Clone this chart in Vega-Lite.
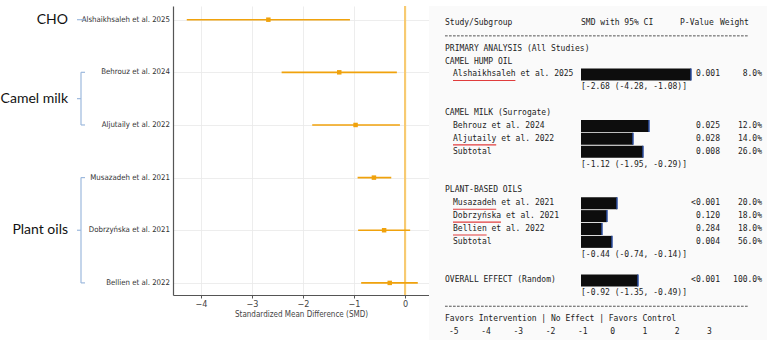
{
  "$schema": "https://vega.github.io/schema/vega-lite/v6.json",
  "padding": {"left": 0, "top": 5, "right": 0, "bottom": 0},
  "background": "white",
  "bounds": "flush",
  "spacing": 0,
  "config": {"view": {"stroke": null}},
  "datasets": {
    "studies": [
      {"order": 1, "study": "Alshaikhsaleh et al. 2025", "smd": -2.68, "lo": -4.28, "hi": -1.08},
      {"order": 2, "study": "Behrouz et al. 2024", "smd": -1.29, "lo": -2.42, "hi": -0.16},
      {"order": 3, "study": "Aljutaily et al. 2022", "smd": -0.97, "lo": -1.82, "hi": -0.10},
      {"order": 4, "study": "Musazadeh et al. 2021", "smd": -0.61, "lo": -0.93, "hi": -0.27},
      {"order": 5, "study": "Dobrzyńska et al. 2021", "smd": -0.41, "lo": -0.92, "hi": 0.10},
      {"order": 6, "study": "Bellien et al. 2022", "smd": -0.30, "lo": -0.86, "hi": 0.25}
    ],
    "groups": [
      {"group": "CHO", "start": 1, "end": 1},
      {"group": "Camel milk", "start": 2, "end": 3},
      {"group": "Plant oils", "start": 4, "end": 6}
    ],
    "table": [
      {"line": 0, "label": "Study/Subgroup", "ci": "SMD with 95% CI", "hp": "P-Value", "hw": "Weight"},
      {"line": 2, "label": "PRIMARY ANALYSIS (All Studies)"},
      {"line": 3, "label": "CAMEL HUMP OIL"},
      {"line": 4, "name": "Alshaikhsaleh et al. 2025", "bar": 27.5, "p": "0.001", "w": "8.0%", "ul": "Alshaikhsaleh"},
      {"line": 5, "ci": "[-2.68 (-4.28, -1.08)]"},
      {"line": 7, "label": "CAMEL MILK (Surrogate)"},
      {"line": 8, "name": "Behrouz et al. 2024", "bar": 17, "p": "0.025", "w": "12.0%"},
      {"line": 9, "name": "Aljutaily et al. 2022", "bar": 13, "p": "0.028", "w": "14.0%", "ul": "Aljutaily"},
      {"line": 10, "name": "Subtotal", "bar": 15.5, "p": "0.008", "w": "26.0%"},
      {"line": 11, "ci": "[-1.12 (-1.95, -0.29)]"},
      {"line": 13, "label": "PLANT-BASED OILS"},
      {"line": 14, "name": "Musazadeh et al. 2021", "bar": 9, "p": "<0.001", "w": "20.0%", "ul": "Musazadeh"},
      {"line": 15, "name": "Dobrzyńska et al. 2021", "bar": 6.5, "p": "0.120", "w": "18.0%", "ul": "Dobrzyńska"},
      {"line": 16, "name": "Bellien et al. 2022", "bar": 5.25, "p": "0.284", "w": "18.0%", "ul": "Bellien"},
      {"line": 17, "name": "Subtotal", "bar": 7.75, "p": "0.004", "w": "56.0%"},
      {"line": 18, "ci": "[-0.44 (-0.74, -0.14)]"},
      {"line": 20, "label": "OVERALL EFFECT (Random)", "bar": 14.25, "p": "<0.001", "w": "100.0%"},
      {"line": 21, "ci": "[-0.92 (-1.35, -0.49)]"},
      {"line": 23, "label": "Favors Intervention | No Effect | Favors Control"}
    ],
    "separators": [{"line": 1}, {"line": 22}],
    "scaleTicks": [
      {"v": -5}, {"v": -4}, {"v": -3}, {"v": -2}, {"v": -1}, {"v": 0}, {"v": 1}, {"v": 2}, {"v": 3}
    ]
  },
  "hconcat": [
    {
      "width": 169,
      "height": 289,
      "layer": [
        {
          "data": {"name": "studies"},
          "mark": {"type": "text", "align": "right", "baseline": "middle", "font": "DejaVu Sans Condensed, sans-serif", "fontSize": 7.8, "color": "#333"},
          "encoding": {
            "x": {"datum": 166, "type": "quantitative", "scale": {"domain": [0, 169], "nice": false, "zero": false}, "axis": null},
            "y": {"field": "order", "type": "quantitative", "scale": {"domain": [0.74, 6.23], "reverse": true, "nice": false, "zero": false}, "axis": null},
            "text": {"field": "study"}
          }
        },
        {
          "data": {"name": "groups"},
          "transform": [{"calculate": "(datum.start + datum.end) / 2", "as": "mid"}],
          "mark": {"type": "text", "align": "right", "baseline": "middle", "font": "Lato", "fontSize": 14, "color": "#111"},
          "encoding": {
            "x": {"datum": 64, "type": "quantitative"},
            "y": {"field": "mid", "type": "quantitative"},
            "text": {"field": "group"}
          }
        },
        {
          "data": {"name": "groups"},
          "mark": {"type": "rule", "color": "#9db9dd", "strokeWidth": 1.2},
          "encoding": {
            "x": {"datum": 77, "type": "quantitative"},
            "y": {"field": "start", "type": "quantitative"},
            "y2": {"field": "end"}
          }
        },
        {
          "data": {"name": "groups"},
          "transform": [{"calculate": "77", "as": "b0"}, {"calculate": "81", "as": "b1"}],
          "mark": {"type": "rule", "color": "#9db9dd", "strokeWidth": 1.2},
          "encoding": {
            "x": {"field": "b0", "type": "quantitative"},
            "x2": {"field": "b1"},
            "y": {"field": "start", "type": "quantitative"}
          }
        },
        {
          "data": {"name": "groups"},
          "transform": [{"calculate": "77", "as": "b0"}, {"calculate": "81", "as": "b1"}],
          "mark": {"type": "rule", "color": "#9db9dd", "strokeWidth": 1.2},
          "encoding": {
            "x": {"field": "b0", "type": "quantitative"},
            "x2": {"field": "b1"},
            "y": {"field": "end", "type": "quantitative"}
          }
        },
        {
          "data": {"name": "groups"},
          "transform": [{"calculate": "(datum.start + datum.end) / 2", "as": "mid"}, {"calculate": "73", "as": "b0"}, {"calculate": "77", "as": "b1"}],
          "mark": {"type": "rule", "color": "#9db9dd", "strokeWidth": 1.2},
          "encoding": {
            "x": {"field": "b0", "type": "quantitative"},
            "x2": {"field": "b1"},
            "y": {"field": "mid", "type": "quantitative"}
          }
        }
      ]
    },
    {
      "width": 256,
      "height": 289,
      "data": {"name": "studies"},
      "layer": [
        {
          "mark": {"type": "rule", "color": "#f7ca72", "strokeWidth": 2},
          "encoding": {"x": {"datum": 0, "type": "quantitative"}}
        },
        {
          "mark": {"type": "rule", "color": "#f0a20c", "strokeWidth": 1.6},
          "encoding": {
            "x": {
              "field": "lo", "type": "quantitative",
              "scale": {"domain": [-4.55, 0.47], "nice": false, "zero": false},
              "axis": {
                "values": [-4, -3, -2, -1, 0],
                "title": "Standardized Mean Difference (SMD)",
                "grid": true, "gridColor": "#e9e9e9", "gridWidth": 0.8,
                "domainColor": "#555", "domainWidth": 1.2,
                "tickColor": "#555", "tickSize": 3,
                "labelFont": "DejaVu Sans Condensed, sans-serif",
                "labelFontSize": 9, "labelColor": "#444", "labelPadding": 1,
                "titleFont": "DejaVu Sans Condensed, sans-serif",
                "titleFontSize": 8, "titleFontWeight": "normal", "titleColor": "#444", "titlePadding": 2
              }
            },
            "x2": {"field": "hi"},
            "y": {
              "field": "order", "type": "quantitative",
              "scale": {"domain": [0.74, 6.23], "reverse": true, "nice": false, "zero": false},
              "axis": {
                "values": [1, 2, 3, 4, 5, 6], "labels": false, "ticks": false, "title": null,
                "grid": true, "gridColor": "#e9e9e9", "gridWidth": 0.8,
                "domainColor": "#555", "domainWidth": 1.2
              }
            }
          }
        },
        {
          "mark": {"type": "point", "shape": "square", "filled": true, "size": 20, "opacity": 1, "color": "#f0a20c"},
          "encoding": {
            "x": {"field": "smd", "type": "quantitative"},
            "y": {"field": "order", "type": "quantitative"}
          }
        }
      ]
    },
    {
      "width": 342,
      "height": 335,
      "view": {"fill": "#fafafa"},
      "resolve": {"scale": {"x": "independent"}},
      "layer": [
        {
          "data": {"name": "scaleTicks"},
          "transform": [{"calculate": "24", "as": "line"}],
          "mark": {"type": "text", "align": "left", "baseline": "middle", "font": "DejaVu Sans Mono", "fontSize": 8, "color": "#222"},
          "encoding": {
            "x": {"field": "v", "type": "quantitative", "scale": {"domain": [-5.62, 4.984], "nice": false, "zero": false}, "axis": null},
            "y": {"field": "line", "type": "quantitative", "scale": {"domain": [-1.32, 24.699], "reverse": true, "nice": false, "zero": false}, "axis": null},
            "text": {"field": "v", "type": "nominal"}
          }
        },
        {
          "data": {"name": "separators"},
          "transform": [{"calculate": "-34", "as": "s0"}, {"calculate": "42", "as": "s1"}],
          "mark": {"type": "rule", "color": "#555", "strokeWidth": 1, "strokeDash": [2.7, 1.3]},
          "encoding": {
            "x": {"field": "s0", "type": "quantitative", "scale": {"domain": [-38, 47.5], "nice": false, "zero": false}, "axis": null},
            "x2": {"field": "s1"},
            "y": {"field": "line", "type": "quantitative", "axis": null}
          }
        },
        {
          "data": {"name": "table"},
          "transform": [{"filter": "isValid(datum.label)"}, {"calculate": "-34", "as": "px"}],
          "mark": {"type": "text", "align": "left", "baseline": "middle", "font": "DejaVu Sans Mono", "fontSize": 8, "color": "#222"},
          "encoding": {
            "x": {"field": "px", "type": "quantitative", "scale": {"domain": [-38, 47.5], "nice": false, "zero": false}, "axis": null},
            "y": {"field": "line", "type": "quantitative", "axis": null},
            "text": {"field": "label"}
          }
        },
        {
          "data": {"name": "table"},
          "transform": [{"filter": "isValid(datum.name)"}, {"calculate": "-32", "as": "px"}],
          "mark": {"type": "text", "align": "left", "baseline": "middle", "font": "DejaVu Sans Mono", "fontSize": 8, "color": "#222"},
          "encoding": {
            "x": {"field": "px", "type": "quantitative", "scale": {"domain": [-38, 47.5], "nice": false, "zero": false}, "axis": null},
            "y": {"field": "line", "type": "quantitative", "axis": null},
            "text": {"field": "name"}
          }
        },
        {
          "data": {"name": "table"},
          "transform": [{"filter": "isValid(datum.ci)"}, {"calculate": "0", "as": "px"}],
          "mark": {"type": "text", "align": "left", "baseline": "middle", "font": "DejaVu Sans Mono", "fontSize": 8, "color": "#222"},
          "encoding": {
            "x": {"field": "px", "type": "quantitative", "scale": {"domain": [-38, 47.5], "nice": false, "zero": false}, "axis": null},
            "y": {"field": "line", "type": "quantitative", "axis": null},
            "text": {"field": "ci"}
          }
        },
        {
          "data": {"name": "table"},
          "transform": [{"filter": "isValid(datum.hp)"}, {"calculate": "24.75", "as": "px"}],
          "mark": {"type": "text", "align": "left", "baseline": "middle", "font": "DejaVu Sans Mono", "fontSize": 8, "color": "#222"},
          "encoding": {
            "x": {"field": "px", "type": "quantitative", "scale": {"domain": [-38, 47.5], "nice": false, "zero": false}, "axis": null},
            "y": {"field": "line", "type": "quantitative", "axis": null},
            "text": {"field": "hp"}
          }
        },
        {
          "data": {"name": "table"},
          "transform": [{"filter": "isValid(datum.hw)"}, {"calculate": "34.75", "as": "px"}],
          "mark": {"type": "text", "align": "left", "baseline": "middle", "font": "DejaVu Sans Mono", "fontSize": 8, "color": "#222"},
          "encoding": {
            "x": {"field": "px", "type": "quantitative", "scale": {"domain": [-38, 47.5], "nice": false, "zero": false}, "axis": null},
            "y": {"field": "line", "type": "quantitative", "axis": null},
            "text": {"field": "hw"}
          }
        },
        {
          "data": {"name": "table"},
          "transform": [{"filter": "isValid(datum.p)"}, {"calculate": "34.75", "as": "px"}],
          "mark": {"type": "text", "align": "right", "baseline": "middle", "font": "DejaVu Sans Mono", "fontSize": 8, "color": "#222"},
          "encoding": {
            "x": {"field": "px", "type": "quantitative", "scale": {"domain": [-38, 47.5], "nice": false, "zero": false}, "axis": null},
            "y": {"field": "line", "type": "quantitative", "axis": null},
            "text": {"field": "p"}
          }
        },
        {
          "data": {"name": "table"},
          "transform": [{"filter": "isValid(datum.w)"}, {"calculate": "45.25", "as": "px"}],
          "mark": {"type": "text", "align": "right", "baseline": "middle", "font": "DejaVu Sans Mono", "fontSize": 8, "color": "#222"},
          "encoding": {
            "x": {"field": "px", "type": "quantitative", "scale": {"domain": [-38, 47.5], "nice": false, "zero": false}, "axis": null},
            "y": {"field": "line", "type": "quantitative", "axis": null},
            "text": {"field": "w"}
          }
        },
        {
          "data": {"name": "table"},
          "transform": [{"filter": "isValid(datum.bar)"}, {"calculate": "0", "as": "px"}],
          "mark": {"type": "rect", "color": "#0d0d0d", "yOffset": -6, "y2Offset": 6},
          "encoding": {
            "x": {"field": "px", "type": "quantitative", "scale": {"domain": [-38, 47.5], "nice": false, "zero": false}, "axis": null},
            "x2": {"field": "bar"},
            "y": {"field": "line", "type": "quantitative", "axis": null},
            "y2": {"field": "line"}
          }
        },
        {
          "data": {"name": "table"},
          "transform": [{"filter": "isValid(datum.bar)"}],
          "mark": {"type": "rule", "color": "#2c4fa3", "strokeWidth": 1.5, "yOffset": -6, "y2Offset": 6},
          "encoding": {
            "x": {"field": "bar", "type": "quantitative", "scale": {"domain": [-38, 47.5], "nice": false, "zero": false}, "axis": null},
            "y": {"field": "line", "type": "quantitative", "axis": null},
            "y2": {"field": "line"}
          }
        },
        {
          "data": {"name": "table"},
          "transform": [{"filter": "isValid(datum.ul)"}, {"calculate": "-32", "as": "px"}, {"calculate": "-32 + length(datum.ul) * 1.2", "as": "ulEnd"}],
          "mark": {"type": "rule", "color": "#e03c3c", "strokeWidth": 1.1, "yOffset": 6, "y2Offset": 6},
          "encoding": {
            "x": {"field": "px", "type": "quantitative", "scale": {"domain": [-38, 47.5], "nice": false, "zero": false}, "axis": null},
            "x2": {"field": "ulEnd"},
            "y": {"field": "line", "type": "quantitative", "axis": null}
          }
        }
      ]
    }
  ]
}
